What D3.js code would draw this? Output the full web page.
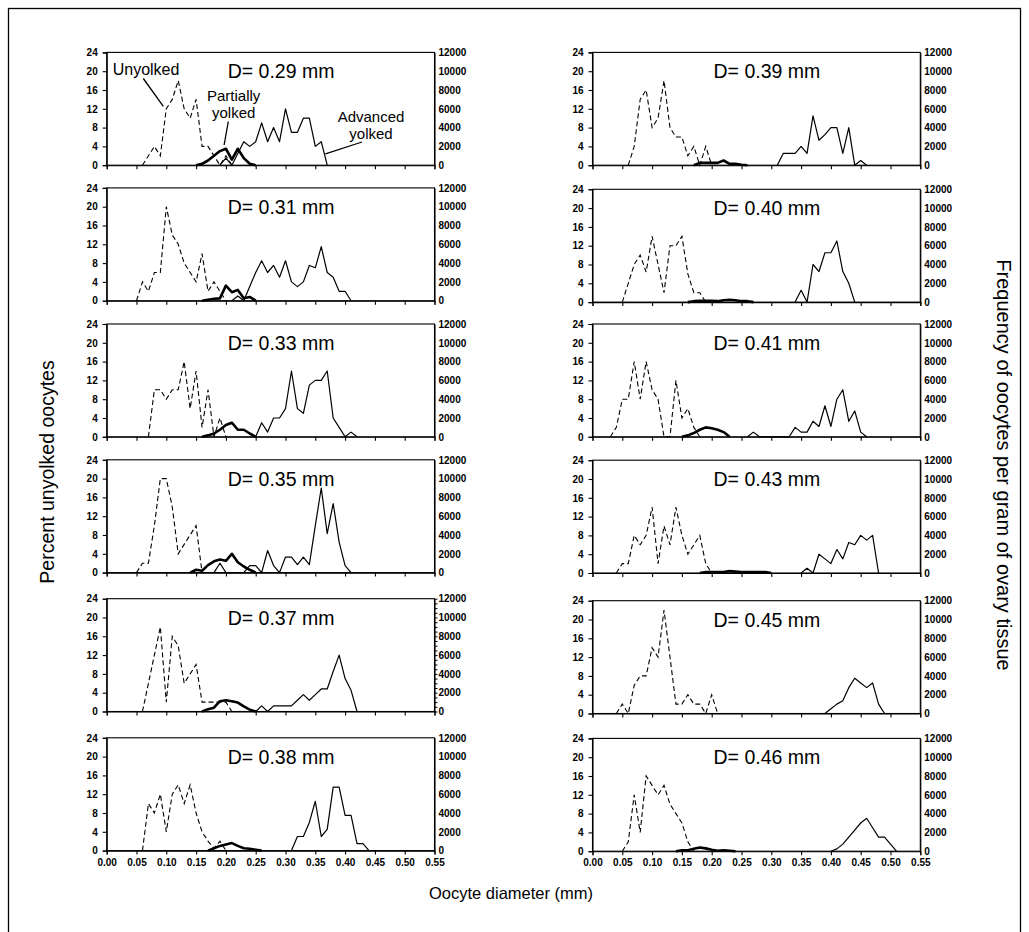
<!DOCTYPE html>
<html><head><meta charset="utf-8">
<script src="https://cdn.jsdelivr.net/npm/d3@7"></script>
<style>body{margin:0;background:#fff}svg{display:block}</style>
</head><body>
<svg id="chart" width="1029" height="932"></svg>
<script>
// ---------- data ----------
const panelLabels = ["D= 0.29 mm","D= 0.31 mm","D= 0.33 mm","D= 0.35 mm","D= 0.37 mm","D= 0.38 mm",
                     "D= 0.39 mm","D= 0.40 mm","D= 0.41 mm","D= 0.43 mm","D= 0.45 mm","D= 0.46 mm"];
const xTicks = [0,0.05,0.10,0.15,0.20,0.25,0.30,0.35,0.40,0.45,0.50,0.55];
const leftTicks = [0,4,8,12,16,20,24];
const rightTicks = [0,2000,4000,6000,8000,10000,12000];
const diameterStep = 0.01;

// Unyolked oocytes (percent, left axis)
const unyolkedStart = [0.06,0.05,0.07,0.05,0.06,0.06, 0.06,0.05,0.03,0.04,0.04,0.05];
const unyolked = [
  [0,2,4,2,12,14,18,12,10,14,4,4,2,0,2,0],
  [0,4,2,6,6,20,14,12,8,6,4,10,2,4,2,0],
  [0,10,10,8,10,10,16,6,14,2,10,0,4,0],
  [0,2,2,10,20,20,14,4,6,8,10,0],
  [0,6,12,18,2,16,14,6,8,10,2,2,2,2,2,0],
  [0,10,8,12,4,12,14,10,14,8,4,2,0.5,2,0],
  [0,4,14,16,8,10,18,8,6,6,2,4,0,4,0],
  [0,4,8,10,6.4,14,8,2,12,12,14,6,2,2,0],
  [0,2,8,8,16,8,16,10,8,0,0,12,4,6,2,0],
  [0,2,2,8,6,8,14,2,10,6,14,8,4,6,8,2,0],
  [0,2,0,6,8,8,14,12,22,12,2,2,4,2,2,0,4,0],
  [0,2,12,4,16,14,12,14,10,8,6,2,0]
];

// Partially yolked oocytes (per gram of ovary tissue, right axis)
const partialStart = [0.15,0.16,0.16,0.14,0.16,0.17, 0.17,0.16,0.15,0.18,0.39,0.14];
const partial = [
  [0,150,500,1000,1500,1750,600,1750,750,150,0],
  [0,100,200,250,1600,900,1150,250,400,0],
  [0,150,350,750,1250,1500,750,750,350,0],
  [0,300,200,800,1200,1400,1250,2000,1100,650,300,0],
  [0,250,400,1100,1200,1100,950,550,200,0],
  [0,250,500,650,800,500,250,200,100,0],
  [0,250,250,250,250,500,150,150,50,0],
  [0,100,150,150,150,100,200,250,200,100,100,0],
  [0,150,400,750,1000,900,750,500,0],
  [0,100,100,100,100,200,150,100,100,100,100,100,0],
  [],
  [0,100,100,250,400,300,150,50,100,50,0]
];

// Advanced yolked oocytes (per gram of ovary tissue, right axis)
const advancedStart = [0.19,0.21,0.25,0.18,0.25,0.31, 0.31,0.34,0.26,0.35,0.39,0.40];
const advanced = [
  [0,750,0,1250,2500,2000,2500,4500,2500,4000,2500,6000,3500,3500,5000,5000,2000,2500,0],
  [0,500,0,1500,3000,4250,3000,3750,2500,4250,2000,1500,2000,3750,3500,5750,3000,2500,1000,1000,0],
  [0,1500,500,2000,2000,3000,7000,3000,2500,5500,6000,6000,7000,2000,1000,0,500,0],
  [0,1000,0,0,0,0,750,750,0,2350,750,0,1650,1650,850,1650,850,5000,9000,4150,7350,3250,750,0],
  [0,600,0,600,600,600,600,1200,1800,1200,1800,2400,2400,4250,6000,3500,2250,0],
  [0,1500,1500,3000,5250,1500,2250,6750,6750,3750,3750,750,750,0],
  [0,1250,1250,1250,2000,1250,5250,2650,3250,4000,4000,1250,4000,0,500,0],
  [0,1250,0,4000,3250,5250,5250,6500,3250,2000,0],
  [0,500,0,0,0,0,0,0,1000,500,500,1650,1100,3300,1100,4000,5000,1650,2750,500,0],
  [0,500,0,2000,1500,1000,2500,1500,3250,3000,4000,3500,4000,0],
  [0,500,1000,1350,2750,3750,3250,2750,3250,1000,0],
  [0,250,750,1500,2250,3000,3500,2500,1500,1500,750,0]
];

// ---------- layout ----------
const FONT = "'Liberation Sans', Arial, Helvetica, sans-serif";
const colX0 = [106.7, 592.5];
const plotW = 327.8;
const plotH = 112.8;
const rowTops = [[52.4,187.9,324,459.8,598.7,737.8],[52.4,189.3,324,460.2,600.7,738.4]];

const svg = d3.select("#chart");
svg.append("rect").attr("x",8.5).attr("y",8.5).attr("width",1012).attr("height",950)
   .attr("fill","none").attr("stroke","#000").attr("stroke-width",1.3);

function toPoints(start, vals){
  return vals.map((v,i)=>({d: start + i*diameterStep, v: v}));
}

panelLabels.forEach((label, i) => {
  const col = i < 6 ? 0 : 1, row = i % 6;
  const x0 = colX0[col], top = rowTops[col][row];
  const x = d3.scaleLinear().domain([0,0.55]).range([x0, x0+plotW]);
  const yL = d3.scaleLinear().domain([0,24]).range([top+plotH, top]);
  const yR = d3.scaleLinear().domain([0,12000]).range([top+plotH, top]);
  const g = svg.append("g");

  // frame
  g.append("rect").attr("x",x0).attr("y",top).attr("width",plotW).attr("height",plotH)
    .attr("fill","none").attr("stroke","#000").attr("stroke-width",1.1);

  // axes
  const ax = g.append("g").attr("transform",`translate(0,${top+plotH})`)
    .call(d3.axisBottom(x).tickValues(xTicks).tickSize(4).tickPadding(4)
      .tickFormat(row===5 ? d3.format(".2f") : ""));
  const al = g.append("g").attr("transform",`translate(${x0},0)`)
    .call(d3.axisLeft(yL).tickValues(leftTicks).tickSize(4).tickPadding(5).tickFormat(d3.format("d")));
  const ar = g.append("g").attr("transform",`translate(${x0+plotW},0)`)
    .call(d3.axisRight(yR).tickValues(rightTicks).tickSize(0).tickPadding(4).tickFormat(d3.format("d")));
  [ax,al,ar].forEach(a=>{
    a.selectAll("path.domain").attr("stroke","#000").attr("stroke-width",1.1);
    a.selectAll("line").attr("stroke","#000").attr("stroke-width",1.1);
    a.selectAll("text").attr("fill","#000").style("font-family",FONT)
      .style("font-weight","bold").style("font-size","10px");
  });
  if (i === 4) {
    // dense minor ticks on the right axis of this panel
    g.append("g").attr("transform",`translate(${x0+plotW},0)`)
      .call(d3.axisRight(yR).tickValues(d3.range(0,12001,500)).tickSize(3).tickFormat(""))
      .call(s=>{s.select("path.domain").remove(); s.selectAll("line").attr("stroke","#000");});
  }

  // title
  g.append("text").attr("x", x0 + 121).attr("y", top + 26).text(label)
    .style("font-family",FONT).style("font-size","19.5px").attr("fill","#000");

  const lineL = d3.line().x(d=>x(d.d)).y(d=>yL(d.v)).defined(d=>d.v!=null);
  const lineR = d3.line().x(d=>x(d.d)).y(d=>yR(d.v)).defined(d=>d.v!=null);

  // advanced yolked (thin solid)
  g.append("path").datum(toPoints(advancedStart[i], advanced[i])).attr("d", lineR)
    .attr("fill","none").attr("stroke","#000").attr("stroke-width",1.2).attr("stroke-linejoin","round");
  // unyolked (dashed)
  g.append("path").datum(toPoints(unyolkedStart[i], unyolked[i])).attr("d", lineL)
    .attr("fill","none").attr("stroke","#000").attr("stroke-width",1.1).attr("stroke-dasharray","5,3");
  // partially yolked (thick)
  if (partial[i].length) {
    g.append("path").datum(toPoints(partialStart[i], partial[i])).attr("d", lineR)
      .attr("fill","none").attr("stroke","#000").attr("stroke-width",2.6).attr("stroke-linejoin","round");
  }

  if (i === 0) {
    const ann = g.append("g").style("font-family",FONT).attr("fill","#000");
    ann.append("text").attr("x", 112.7).attr("y", 75).style("font-size","16px").text("Unyolked");
    const small = "15px";
    ann.append("text").attr("x", 233.7).attr("y", 101).attr("text-anchor","middle").style("font-size",small).text("Partially");
    ann.append("text").attr("x", 233.7).attr("y", 117.5).attr("text-anchor","middle").style("font-size",small).text("yolked");
    ann.append("text").attr("x", 371).attr("y", 122).attr("text-anchor","middle").style("font-size",small).text("Advanced");
    ann.append("text").attr("x", 371).attr("y", 138.5).attr("text-anchor","middle").style("font-size",small).text("yolked");
    const leaders = [[143.3,78.5,x(0.095),yL(12.5)],[228.3,121.5,x(0.197),yL(4.3)],[362,142,x(0.367),yL(2.4)]];
    leaders.forEach(l=>g.append("line").attr("x1",l[0]).attr("y1",l[1]).attr("x2",l[2]).attr("y2",l[3])
      .attr("stroke","#000").attr("stroke-width",1.3));
  }
});

// axis titles
svg.append("text").attr("transform","translate(54,472) rotate(-90)").attr("text-anchor","middle")
  .text("Percent unyolked oocytes").style("font-family",FONT).style("font-size","19.5px");
svg.append("text").attr("transform","translate(997,465) rotate(90)").attr("text-anchor","middle")
  .text("Frequency of oocytes per gram of ovary tissue").style("font-family",FONT).style("font-size","20px");
svg.append("text").attr("x",511).attr("y",899).attr("text-anchor","middle")
  .text("Oocyte diameter (mm)").style("font-family",FONT).style("font-size","16.5px");
</script>
</body></html>
